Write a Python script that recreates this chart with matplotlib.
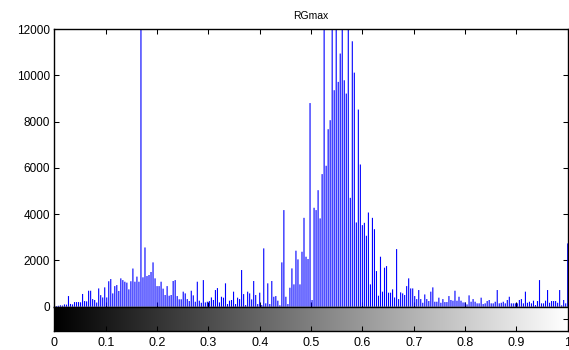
import matplotlib
matplotlib.use('Agg')
import matplotlib.pyplot as plt
import numpy as np

plt.rcParams['font.family'] = ['Liberation Sans', 'DejaVu Sans']

# pixel counts per bin (256 bins over [0, 1]); bars above 12000 get clipped by the axes
counts_dark = [20, 30, 40, 60, 50, 100, 90, 460, 120, 100, 200, 200, 200, 190, 550,
               245, 230, 690, 690, 330, 290, 180, 790, 500, 400, 835, 400, 1100, 1195,
               575, 890, 935, 680, 1225, 1150, 1080, 1040, 750, 1100, 1650, 1080, 1300,
               1080, 15000]
counts_low = [1270, 2560, 1325, 1370, 1500, 1915, 1225, 890, 890, 1080, 780, 505, 890,
              475, 505, 1110, 1150, 460, 320, 320, 650, 575, 330, 245, 690, 490, 215,
              1080, 260, 170, 1150, 185, 215, 245, 400, 290, 720, 805, 185, 430, 390,
              1010,
              115, 260, 290, 650, 115, 390, 330, 1585, 545, 70, 650, 575, 315, 1110, 505,
              115, 605, 70, 2520, 145, 1010, 115, 1110, 430, 460, 260, 60, 1915, 4175,
              430, 115, 820, 1655, 965, 2420, 2045, 965, 2375]
counts_peak = [3840, 2160, 2060, 8800, 290, 4275, 4175, 5035, 3815, 5730, 13000, 6090,
               7670, 8060, 13000, 9355, 13000, 9715, 10940, 13000,
               9785, 9210, 13000, 4705, 11470, 10115, 3640, 8520, 6145, 3525, 3625,
               3065, 4070, 965, 3840, 3350, 1540, 475, 2160, 650, 1685, 1755]
counts_high = [605, 605, 750, 400, 2490, 330, 620, 575, 505, 890, 1225, 790, 790, 460,
               330, 720, 330, 170, 530, 330, 245, 650, 835, 215, 215, 390, 170, 330, 200,
               200, 460, 290, 260, 690, 260, 430, 260, 185, 185, 100, 490, 215, 330, 215,
               145, 145,
               390, 115, 145, 245, 290, 145, 145, 215, 720, 145, 170, 215, 145, 290, 430,
               145, 145, 145, 145, 290, 330, 145, 650, 170, 215, 145, 260, 70, 245, 1150,
               145, 145, 260, 720, 170, 245, 245, 245, 170, 720, 60, 290, 145, 2735]

counts = counts_dark + counts_low + counts_peak + counts_high
bins = np.linspace(0, 1, len(counts))

y_ticks = [0, 2000, 4000, 6000, 8000, 10000, 12000]
x_ticks = [0, 0.1, 0.2, 0.3, 0.4, 0.5, 0.6, 0.7, 0.8, 0.9, 1.0]
x_tick_labels = ['0', '0.1', '0.2', '0.3', '0.4', '0.5', '0.6', '0.7', '0.8', '0.9', '1']

fig = plt.figure(figsize=(5.69, 3.5), dpi=100)

# histogram axes
ax = fig.add_axes([0.0956, 0.1237, 0.9021, 0.7934])
ax.vlines(bins, 0, counts, colors='#0000ff', linewidth=0.8, snap=False)
ax.set_xlim(0, 1)
ax.set_ylim(0, 12000)
ax.set_xticks(x_ticks)
ax.set_yticks(y_ticks)
ax.set_yticklabels([str(v) for v in y_ticks])
ax.tick_params(direction='in', top=True, right=True, length=3.5, width=0.75,
               labelbottom=False, labelsize=8.5, pad=3)
ax.set_title('RGmax', fontsize=7.5, pad=7)
for s in ax.spines.values():
    s.set_linewidth(1.0)

# grey level bar underneath
cax = fig.add_axes([0.0956, 0.0543, 0.9021, 0.0694])
cax.imshow(bins[None, :], cmap='gray', vmin=0, vmax=1, aspect='auto',
           extent=[0, 1, 0, 1], interpolation='bilinear')
cax.set_xlim(0, 1)
cax.set_ylim(0, 1)
cax.set_xticks(x_ticks)
cax.set_xticklabels(x_tick_labels)
cax.set_yticks([0.5])
cax.tick_params(axis='x', direction='in', length=3.5, width=0.75, labelsize=9, pad=4)
cax.tick_params(axis='y', direction='in', left=False, right=True, labelleft=False,
                length=3.5, width=0.75)
for s in cax.spines.values():
    s.set_linewidth(1.0)

fig.savefig('out.png', dpi=100)
